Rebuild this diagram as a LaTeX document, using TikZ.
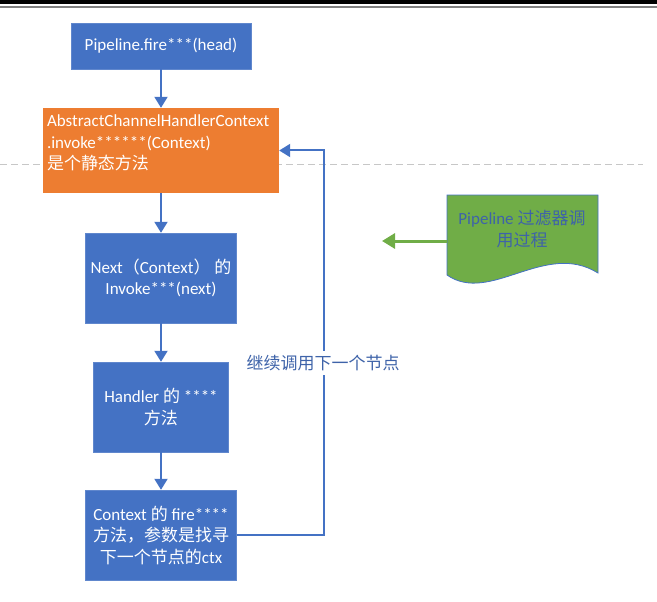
\documentclass[tikz,border=0pt]{standalone}
\usepackage{fontspec}
\setmainfont{Carlito}
\newfontfamily\cjk{Noto Sans CJK SC}
\newcommand\zh[1]{{\cjk #1}}
\usepackage{tikz}
\usetikzlibrary{arrows.meta, positioning}
\definecolor{boxblue}{HTML}{4472C4}
\definecolor{boxorange}{HTML}{ED7D31}
\definecolor{boxgreen}{HTML}{70AD47}
\definecolor{labelblue}{HTML}{3E63A9}

\begin{document}
\begin{tikzpicture}[x=1pt,y=-1pt,
  font=\fontsize{17}{21.5}\selectfont,
  blk/.style={fill=boxblue, draw=boxblue!85!white, text=white, align=center, inner sep=0pt, minimum height=90pt},
  flow/.style={draw=boxblue, line width=2pt, -{Triangle[width=13pt,length=11pt]}},
  greenflow/.style={draw=boxgreen, line width=3pt, -{Triangle[width=15pt,length=13pt]}}]
 \useasboundingbox (0,0) rectangle (657,602);
 \draw[line width=3.5pt] (0,1.9) -- (657,1.9);
 \draw[line width=2.5pt, black!50] (0,6.8) -- (657,6.8);
 \draw[black!22, line width=1.2pt, dash pattern=on 7pt off 4pt] (0,164.5) -- (643,164.5);
 \node[blk, minimum width=180pt, minimum height=46pt] (head) at (161,46) {Pipeline.fire***(head)};
 \node[fill=boxorange, minimum width=236pt, minimum height=85pt, inner sep=0pt] (invoke) at (161,150.5) {};
 \node[anchor=north west, text=white, align=left, inner sep=0pt] (invoketxt) at ([xshift=4pt,yshift=-7pt]invoke.north west)
   {AbstractChannelHandlerContext\\.invoke******(Context)\\\zh{是个静态方法}};
 \node[blk, minimum width=151pt] (next) at (161,278) {Next\zh{（}Context\zh{）} \zh{的}\\Invoke***(next)};
 \node[blk, minimum width=135pt] (handler) at (161,407) {Handler \zh{的} ****\\\zh{方法}};
 \node[blk, minimum width=151pt] (ctx) at (161,535) {Context \zh{的} fire****\\\zh{方法，参数是找寻}\\\zh{下一个节点的}ctx};
 \draw[flow] (head) -- (invoke);
 \draw[flow] (invoke) -- (next);
 \draw[flow] (next) -- (handler);
 \draw[flow] (handler) -- (ctx);
 \draw[flow] (ctx.east) -- ++(87,0) |- (invoke.east);
 \node[fill=white, text=labelblue, inner xsep=1pt, inner ysep=4pt] (again) at (323,363) {\zh{继续调用下一个节点}};
 \draw[fill=boxgreen, draw=boxblue, line width=0.8pt] (447,195) -- (598,195) -- (598,273)
   .. controls (545,240) and (490,305) .. (447,275) -- cycle;
 \node[text=labelblue, align=center, inner sep=0pt] (doc) at (522,229) {Pipeline \zh{过滤器调}\\\zh{用过程}};
 \coordinate (docw) at (447,241);
 \coordinate (doctip) at (382,241);
 \draw[greenflow] (docw) -- (doctip);
\end{tikzpicture}
\end{document}
